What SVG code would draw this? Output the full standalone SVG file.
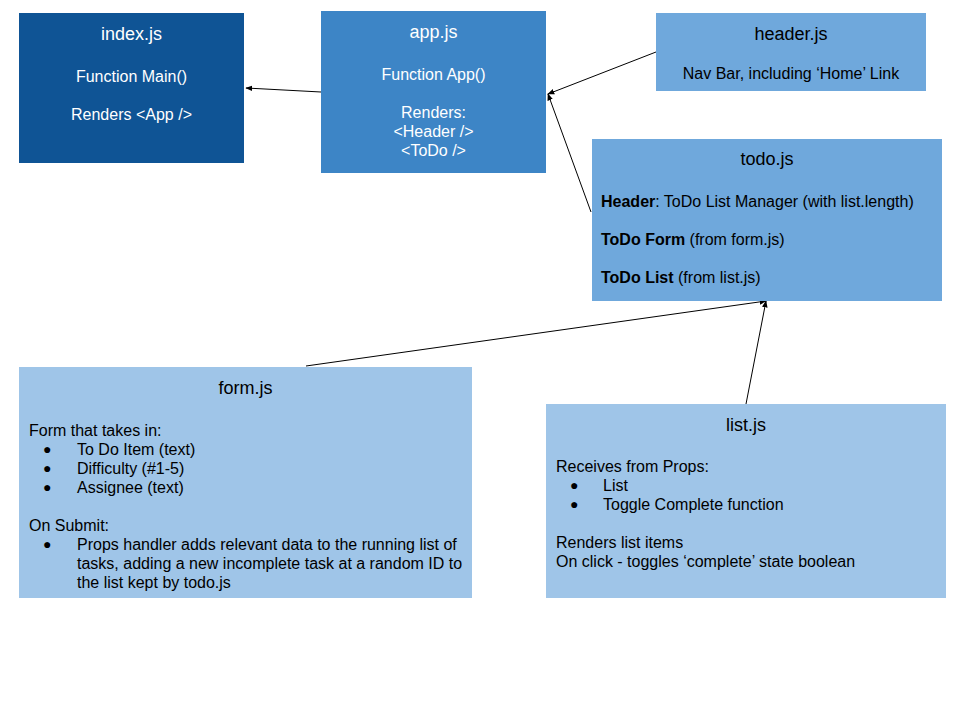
<svg xmlns="http://www.w3.org/2000/svg" width="960" height="720" viewBox="0 0 960 720">
  <style>
    text { font-family: "Liberation Sans", Arial, sans-serif; font-size: 16px; }
    .title { font-size: 18px; text-anchor: middle; }
    .c { text-anchor: middle; }
    .w { fill: #ffffff; }
    .k { fill: #000000; }
    .b { font-weight: bold; }
    .dot { font-size: 14px; }
    .edge { stroke: #000000; stroke-width: 1; fill: none; marker-end: url(#arrow); }
  </style>
  <defs>
    <marker id="arrow" viewBox="0 0 10 10" refX="9" refY="5" markerWidth="7" markerHeight="7" orient="auto" markerUnits="userSpaceOnUse">
      <path d="M0,1 L10,5 L0,9 Z" fill="#000000"/>
    </marker>
  </defs>
  <rect width="960" height="720" fill="#ffffff"/>

  <g id="connectors">
    <line class="edge" x1="321" y1="92" x2="246" y2="88"/>
    <line class="edge" x1="656" y1="52" x2="548" y2="94"/>
    <line class="edge" x1="591" y1="212" x2="548" y2="94"/>
    <line class="edge" x1="306" y1="366" x2="766" y2="301"/>
    <line class="edge" x1="746" y1="404" x2="766" y2="301"/>
  </g>

  <g id="index">
    <rect x="19" y="13" width="225" height="150" fill="#0f5495"/>
    <text class="title w" x="131.5" y="40">index.js</text>
    <text class="c w" x="131.5" y="82">Function Main()</text>
    <text class="c w" x="131.5" y="120">Renders &lt;App /&gt;</text>
  </g>

  <g id="app">
    <rect x="321" y="11" width="225" height="162" fill="#3d85c6"/>
    <text class="title w" x="433.5" y="38">app.js</text>
    <text class="c w" x="433.5" y="80">Function App()</text>
    <text class="c w" x="433.5" y="118">Renders:</text>
    <text class="c w" x="433.5" y="137">&lt;Header /&gt;</text>
    <text class="c w" x="433.5" y="156">&lt;ToDo /&gt;</text>
  </g>

  <g id="header">
    <rect x="656" y="13" width="270" height="78" fill="#6fa8dc"/>
    <text class="title k" x="791" y="40">header.js</text>
    <text class="c k" x="791" y="79">Nav Bar, including ‘Home’ Link</text>
  </g>

  <g id="todo">
    <rect x="592" y="139" width="350" height="162" fill="#6fa8dc"/>
    <text class="title k" x="767" y="165">todo.js</text>
    <text class="k" x="601" y="207"><tspan class="b">Header</tspan>: ToDo List Manager (with list.length)</text>
    <text class="k" x="601" y="245"><tspan class="b">ToDo Form</tspan> (from form.js)</text>
    <text class="k" x="601" y="283"><tspan class="b">ToDo List</tspan> (from list.js)</text>
  </g>

  <g id="form">
    <rect x="19" y="367" width="453" height="231" fill="#9fc5e8"/>
    <text class="title k" x="245.5" y="394">form.js</text>
    <text class="k" x="29" y="436">Form that takes in:</text>
    <text class="k dot" x="43" y="454">●</text>
    <text class="k" x="77" y="455">To Do Item (text)</text>
    <text class="k dot" x="43" y="473">●</text>
    <text class="k" x="77" y="474">Difficulty (#1-5)</text>
    <text class="k dot" x="43" y="492">●</text>
    <text class="k" x="77" y="493">Assignee (text)</text>
    <text class="k" x="29" y="531">On Submit:</text>
    <text class="k dot" x="43" y="549">●</text>
    <text class="k" x="77" y="550">Props handler adds relevant data to the running list of</text>
    <text class="k" x="77" y="569">tasks, adding a new incomplete task at a random ID to</text>
    <text class="k" x="77" y="588">the list kept by todo.js</text>
  </g>

  <g id="list">
    <rect x="546" y="404" width="400" height="194" fill="#9fc5e8"/>
    <text class="title k" x="746" y="431">list.js</text>
    <text class="k" x="556" y="472">Receives from Props:</text>
    <text class="k dot" x="570" y="490">●</text>
    <text class="k" x="603" y="491">List</text>
    <text class="k dot" x="570" y="509">●</text>
    <text class="k" x="603" y="510">Toggle Complete function</text>
    <text class="k" x="556" y="548">Renders list items</text>
    <text class="k" x="556" y="567">On click - toggles ‘complete’ state boolean</text>
  </g>
</svg>
